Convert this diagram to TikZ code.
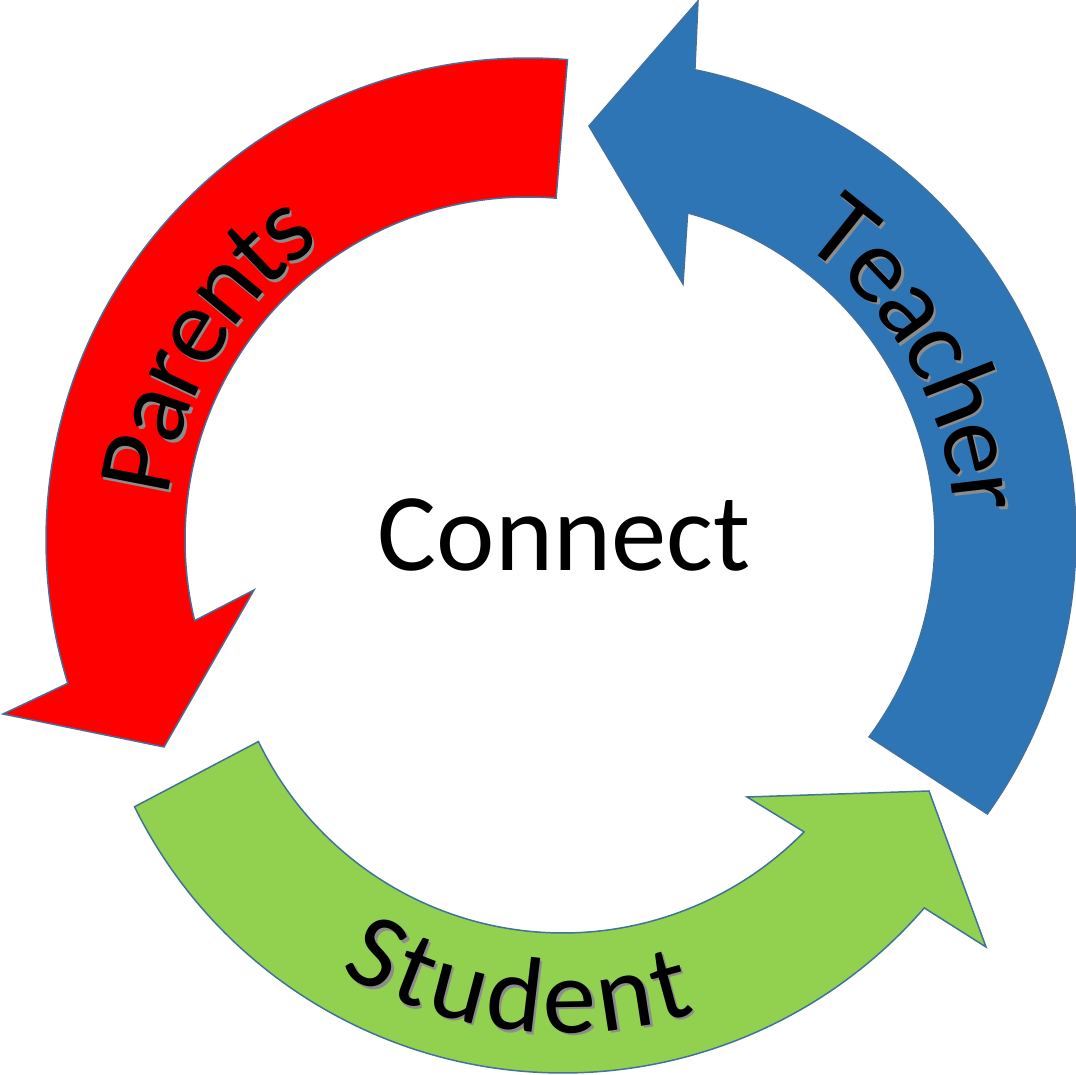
\documentclass[tikz,border=0pt]{standalone}
\usepackage{fontspec}
\setmainfont{Carlito}
\usepackage{tikz}
\usetikzlibrary{decorations.text}
\definecolor{parentred}{RGB}{255,0,0}
\definecolor{teacherblue}{RGB}{46,117,182}
\definecolor{studentgreen}{RGB}{146,208,80}
\definecolor{edgeblue}{RGB}{65,113,156}
\newcommand{\arcfont}{\fontsize{61}{72}\selectfont}

\begin{document}
\begin{tikzpicture}[x=0.02cm, y=0.02cm,
    arrowpiece/.style={draw=edgeblue, line width=0.85pt, line join=miter},
    arcword/.style 2 args={decorate, decoration={text along path, text align=center, raise=-0.68cm, text={|\arcfont\color{#2}|#1}}}]
\useasboundingbox (0,0) rectangle (1076,1075);
% parents arrow
\begin{scope}[shift={(528,535)}]
  \filldraw[arrowpiece, fill=parentred] (85.3:482) arc[start angle=85.3, end angle=197.3, radius=482]
      -- (-525,-174) -- (-364,-207) -- (-274,-50)
      -- (193.6:343) arc[start angle=193.6, end angle=85.3, radius=343] -- cycle;
  \path[arcword={Parents}{black!45}, shift={(2.5,-2.5)}] (189:396) arc[start angle=189, end angle=109, radius=396];
  \path[arcword={Parents}{black}] (189:396) arc[start angle=189, end angle=109, radius=396];
\end{scope}
% teacher arrow
\begin{scope}[shift={(599,538)}]
  \filldraw[arrowpiece, fill=teacherblue] (-35.5:477) arc[start angle=-35.5, end angle=78.4, radius=477]
      -- (99,536) -- (-10,411) -- (84,253)
      -- (74.7:336) arc[start angle=74.7, end angle=-36.5, radius=336] -- cycle;
  \path[arcword={Teacher}{black!45}, shift={(2.5,-2.5)}] (69.5:390) arc[start angle=69.5, end angle=-10.5, radius=390];
  \path[arcword={Teacher}{black}] (69.5:390) arc[start angle=69.5, end angle=-10.5, radius=390];
\end{scope}
% student arrow
\begin{scope}[shift={(563,480)}]
  \filldraw[arrowpiece, fill=studentgreen] (206.3:478) arc[start angle=206.3, end angle=319.1, radius=478]
      -- (423,-352) -- (366,-196) -- (184,-202)
      -- (315.5:338) arc[start angle=315.5, end angle=205.7, radius=338] -- cycle;
  \path[arcword={Student}{black!45}, shift={(2.5,-2.5)}] (223.5:404) arc[start angle=223.5, end angle=303.5, radius=404];
  \path[arcword={Student}{black}] (223.5:404) arc[start angle=223.5, end angle=303.5, radius=404];
\end{scope}
\node[font=\fontsize{63}{75}\selectfont] (connect) at (564,540) {Connect};
\end{tikzpicture}
\end{document}
